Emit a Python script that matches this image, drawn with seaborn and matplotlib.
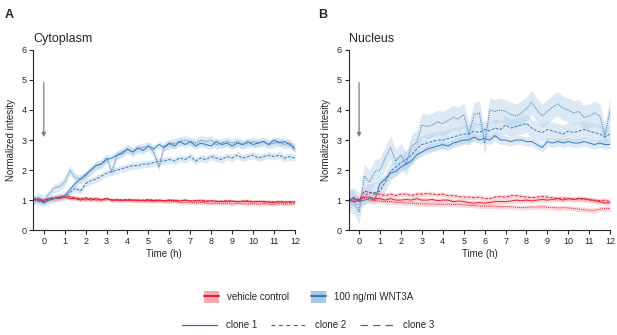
import matplotlib
matplotlib.use("Agg")
import matplotlib.pyplot as plt
from matplotlib.patches import Patch
from matplotlib.lines import Line2D
import pandas as pd
import seaborn as sns

# time points (h)
time = [-0.5, -0.25, 0, 0.25, 0.5, 0.75, 1, 1.25, 1.5, 1.75, 2, 2.25, 2.5, 2.75,
        3, 3.25, 3.5, 3.75, 4, 4.25, 4.5, 4.75, 5, 5.25, 5.5, 5.75, 6, 6.25, 6.5,
        6.75, 7, 7.25, 7.5, 7.75, 8, 8.25, 8.5, 8.75, 9, 9.25, 9.5, 9.75, 10,
        10.25, 10.5, 10.75, 11, 11.25, 11.5, 11.75, 12]

# ---- Cytoplasm (A) ----
cyto_wnt_c1 = [1.05, 1.0, 0.9, 1.0, 1.05, 1.1, 1.15, 1.35, 1.55, 1.7, 1.85, 2.0, 2.15, 2.2,
               2.35, 2.4, 2.5, 2.55, 2.7, 2.6, 2.75, 2.65, 2.8, 2.7, 2.85, 2.75, 2.9, 2.8,
               2.95, 2.85, 2.95, 2.8, 2.9, 2.85, 2.8, 2.95, 2.85, 2.9, 2.8, 2.9, 2.85, 2.95,
               2.85, 2.9, 2.95, 2.85, 3.0, 2.9, 2.95, 2.85, 2.7]
cyto_wnt_c2 = [1.0, 1.1, 1.0, 1.2, 1.4, 1.45, 1.6, 2.0, 1.75, 1.7, 1.8, 2.0, 2.15, 2.2,
               2.4, 1.95, 2.5, 2.6, 2.7, 2.6, 2.7, 2.75, 2.8, 2.6, 2.1, 2.8, 2.85, 2.9,
               2.95, 3.0, 2.95, 2.9, 3.0, 2.95, 3.0, 2.85, 2.9, 2.95, 2.9, 2.95, 2.85, 2.9,
               2.95, 2.9, 2.95, 2.85, 2.9, 2.95, 2.85, 2.9, 2.75]
cyto_wnt_c3 = [1.0, 0.95, 0.95, 1.05, 1.05, 1.1, 1.1, 1.25, 1.4, 1.3, 1.55, 1.65, 1.7, 1.8,
               1.9, 1.95, 2.0, 2.05, 2.1, 2.15, 2.15, 2.2, 2.2, 2.25, 2.3, 2.3, 2.35, 2.3,
               2.4, 2.35, 2.45, 2.3, 2.4, 2.35, 2.45, 2.4, 2.35, 2.45, 2.4, 2.5, 2.4, 2.45,
               2.5, 2.4, 2.45, 2.5, 2.45, 2.5, 2.4, 2.45, 2.4]
cyto_veh_c1 = [1.0, 1.05, 0.95, 1.0, 1.05, 1.05, 1.1, 1.05, 1.05, 1.0, 1.05, 1.0, 1.05, 1.0,
               1.05, 1.0, 1.0, 1.0, 1.0, 1.0, 1.0, 0.98, 1.0, 0.98, 1.0, 0.98, 1.0, 0.98,
               0.97, 1.0, 0.97, 0.98, 0.97, 0.96, 0.97, 0.96, 0.95, 0.96, 0.97, 0.95, 0.96,
               0.95, 0.94, 0.95, 0.96, 0.93, 0.92, 0.94, 0.93, 0.95, 0.93]
cyto_veh_c2 = [1.0, 1.0, 1.0, 1.05, 1.05, 1.1, 1.15, 1.1, 1.05, 1.05, 1.0, 1.05, 1.0, 1.0,
               1.05, 1.0, 1.0, 0.98, 1.0, 0.98, 0.97, 0.98, 0.96, 0.95, 0.97, 0.95, 0.94,
               0.96, 0.93, 0.92, 0.93, 0.9, 0.92, 0.9, 0.88, 0.9, 0.88, 0.89, 0.87, 0.9,
               0.88, 0.87, 0.88, 0.86, 0.88, 0.87, 0.86, 0.88, 0.86, 0.87, 0.88]
cyto_veh_c3 = [1.05, 1.0, 1.0, 1.05, 1.1, 1.1, 1.1, 1.12, 1.08, 1.05, 1.08, 1.05, 1.05, 1.02,
               1.05, 1.0, 1.02, 1.0, 1.02, 1.0, 1.0, 1.0, 1.02, 1.0, 1.0, 0.98, 1.0, 1.0,
               0.98, 1.0, 0.97, 0.98, 1.0, 0.97, 0.98, 0.96, 0.97, 0.98, 0.96, 0.95, 0.97,
               0.98, 0.95, 0.96, 0.93, 0.95, 0.94, 0.96, 0.94, 0.92, 0.95]

# ---- Nucleus (B) ----
nuc_wnt_c1 = [1.0, 1.05, 0.95, 1.0, 1.05, 1.0, 1.55, 1.7, 1.9, 1.95, 2.1, 2.2, 2.3, 2.5,
              2.6, 2.7, 2.75, 2.8, 2.85, 2.8, 2.9, 2.95, 3.0, 3.0, 3.1, 3.0, 3.05, 3.0,
              3.15, 3.0, 3.0, 2.95, 3.0, 3.0, 2.95, 2.95, 2.85, 2.75, 2.95, 2.9, 2.95, 2.9,
              2.95, 2.9, 2.9, 2.95, 2.9, 2.85, 2.9, 2.85, 2.85]
nuc_wnt_c2 = [1.0, 0.95, 0.6, 1.8, 1.6, 1.95, 2.0, 2.4, 2.75, 2.3, 2.5, 2.2, 2.8, 2.9,
              3.5, 3.45, 3.5, 3.6, 3.55, 3.65, 3.75, 3.7, 3.85, 3.2, 3.85, 3.9, 2.9, 4.0,
              3.95, 4.0, 3.95, 3.85, 3.8, 3.9, 4.05, 4.25, 4.0, 3.8, 3.95, 4.1, 4.2, 4.05,
              4.0, 3.9, 3.95, 3.75, 3.8, 3.9, 3.8, 3.15, 4.0]
nuc_wnt_c3 = [1.0, 1.1, 0.95, 1.15, 1.25, 1.25, 1.3, 1.6, 1.95, 2.1, 2.25, 2.35, 2.5, 2.7,
              2.85, 2.9, 2.95, 3.0, 3.0, 3.05, 3.1, 3.15, 3.2, 3.2, 3.3, 3.25, 3.35, 3.3,
              3.4, 3.35, 3.5, 3.4, 3.45, 3.5, 3.55, 3.4, 3.3, 3.25, 3.35, 3.3, 3.25, 3.2,
              3.3, 3.25, 3.3, 3.35, 3.3, 3.25, 3.2, 3.1, 3.2]
nuc_veh_c1 = [1.0, 0.95, 1.0, 1.1, 1.1, 1.05, 1.05, 1.0, 1.05, 1.0, 1.0, 1.02, 1.0, 1.05,
              1.0, 1.0, 1.02, 0.98, 1.0, 1.0, 0.95, 0.97, 0.95, 0.92, 0.9, 0.92, 0.9, 0.92,
              0.95, 0.95, 0.95, 0.97, 1.0, 0.98, 1.0, 0.97, 1.0, 1.02, 1.0, 1.02, 1.05, 1.0,
              1.05, 1.02, 1.05, 1.05, 1.02, 0.98, 0.95, 0.9, 0.92]
nuc_veh_c2 = [1.0, 1.0, 1.05, 1.05, 1.0, 0.98, 0.97, 0.95, 0.95, 0.92, 0.92, 0.9, 0.9, 0.88,
              0.88, 0.87, 0.87, 0.86, 0.86, 0.86, 0.85, 0.85, 0.84, 0.83, 0.82, 0.8, 0.8,
              0.8, 0.8, 0.78, 0.78, 0.78, 0.76, 0.75, 0.76, 0.77, 0.77, 0.78, 0.76, 0.75,
              0.74, 0.75, 0.74, 0.72, 0.7, 0.68, 0.66, 0.66, 0.7, 0.72, 0.72]
nuc_veh_c3 = [1.0, 1.05, 1.0, 1.3, 1.25, 1.2, 1.2, 1.15, 1.2, 1.15, 1.2, 1.2, 1.15, 1.2,
              1.2, 1.22, 1.2, 1.18, 1.2, 1.15, 1.15, 1.12, 1.1, 1.1, 1.08, 1.1, 1.05, 1.05,
              1.1, 1.12, 1.1, 1.15, 1.15, 1.12, 1.1, 1.08, 1.1, 1.12, 1.1, 1.08, 1.05, 1.07,
              1.05, 1.03, 1.05, 1.02, 1.0, 1.0, 0.98, 1.0, 0.95]

# shaded band half-width for each series
cyto_wnt_band = [0.12, 0.15, 0.12]
cyto_veh_band = [0.06, 0.06, 0.06]
nuc_wnt_band = [0.15, 0.4, 0.3]
nuc_veh_band = [0.08, 0.08, 0.08]

conditions = ["vehicle control", "100 ng/ml WNT3A"]
clones = ["clone 1", "clone 2", "clone 3"]
panels = ["Cytoplasm", "Nucleus"]
panel_letters = ["A", "B"]

red = "#e0222c"
blue = "#3a78bb"
red_fill = "#f6a9b0"
blue_fill = "#b3cfeb"
clone_col = "#4a66ae"


def build(veh, wnt, veh_band, wnt_band):
    rows = []
    for cond, series, bands in [(conditions[0], veh, veh_band), (conditions[1], wnt, wnt_band)]:
        for cl, vals, bw in zip(clones, series, bands):
            for t, v in zip(time, vals):
                rows.append({"time": t, "value": v, "condition": cond, "clone": cl,
                             "lo": v - bw, "hi": v + bw})
    return pd.DataFrame(rows)


data = [
    build([cyto_veh_c1, cyto_veh_c2, cyto_veh_c3], [cyto_wnt_c1, cyto_wnt_c2, cyto_wnt_c3],
          cyto_veh_band, cyto_wnt_band),
    build([nuc_veh_c1, nuc_veh_c2, nuc_veh_c3], [nuc_wnt_c1, nuc_wnt_c2, nuc_wnt_c3],
          nuc_veh_band, nuc_wnt_band),
]

sns.set_style("ticks")
plt.rcParams["font.family"] = ["Liberation Sans", "DejaVu Sans"]

fig = plt.figure(figsize=(6.17, 3.35), dpi=100)
axes = [fig.add_axes([0.054, 0.313, 0.424, 0.538]),
        fig.add_axes([0.565, 0.313, 0.424, 0.538])]
letter_x = [0.008, 0.515]

palette = {conditions[0]: red, conditions[1]: blue}
fills = {conditions[0]: red_fill, conditions[1]: blue_fill}
dashes = {"clone 1": "", "clone 2": (1, 1), "clone 3": (3, 1.5)}

for ax, df, title, letter, lx in zip(axes, data, panels, panel_letters, letter_x):
    for (cond, cl), g in df.groupby(["condition", "clone"]):
        ax.fill_between(g["time"], g["lo"], g["hi"], color=fills[cond],
                        alpha=0.45, lw=0)
    sns.lineplot(data=df, x="time", y="value", hue="condition", style="clone",
                 palette=palette, dashes=dashes, linewidth=0.7, legend=False,
                 estimator=None, ax=ax)
    ax.set_xlim(-0.5, 12)
    ax.set_ylim(0, 6)
    ax.set_xticks(range(0, 13))
    ax.set_yticks(range(0, 7))
    ax.tick_params(labelsize=6.5, length=3, width=0.8, pad=2)
    ax.set_xlabel("Time (h)", fontsize=7, labelpad=2)
    ax.set_ylabel("Normalized intesity", fontsize=7, labelpad=4)
    sns.despine(ax=ax)
    for s in ["left", "bottom"]:
        ax.spines[s].set_linewidth(0.8)
    ax.set_title(title, loc="left", fontsize=9, pad=6)
    ax.annotate("", xy=(0, 3), xytext=(0, 5),
                arrowprops=dict(arrowstyle="-|>", fc="black", ec="#8a8a8a", lw=1,
                                mutation_scale=6))
    fig.text(lx, 0.955, letter, fontsize=9, fontweight="bold", va="center")

# legend rows
cond_handles = [(Patch(facecolor=red_fill, edgecolor="none"), Line2D([], [], color=red, lw=1.5)),
                (Patch(facecolor="#a8c6e6", edgecolor="none"), Line2D([], [], color=blue, lw=1.5))]
fig.legend(cond_handles, conditions, loc="center", bbox_to_anchor=(0.5, 0.113),
           ncol=2, frameon=False, fontsize=7, handlelength=1.6, handleheight=1.6,
           columnspacing=2.2, handletextpad=0.8)

clone_handles = [Line2D([], [], color=clone_col, lw=0.9, ls="-"),
                 Line2D([], [], color=clone_col, lw=0.9, ls=(0, (3, 3))),
                 Line2D([], [], color=clone_col, lw=0.9, ls=(0, (6, 4)))]
fig.legend(clone_handles, clones, loc="center", bbox_to_anchor=(0.5, 0.03),
           ncol=3, frameon=False, fontsize=7, handlelength=3.6,
           columnspacing=1.4, handletextpad=0.9)

fig.savefig("out.png", dpi=100)
